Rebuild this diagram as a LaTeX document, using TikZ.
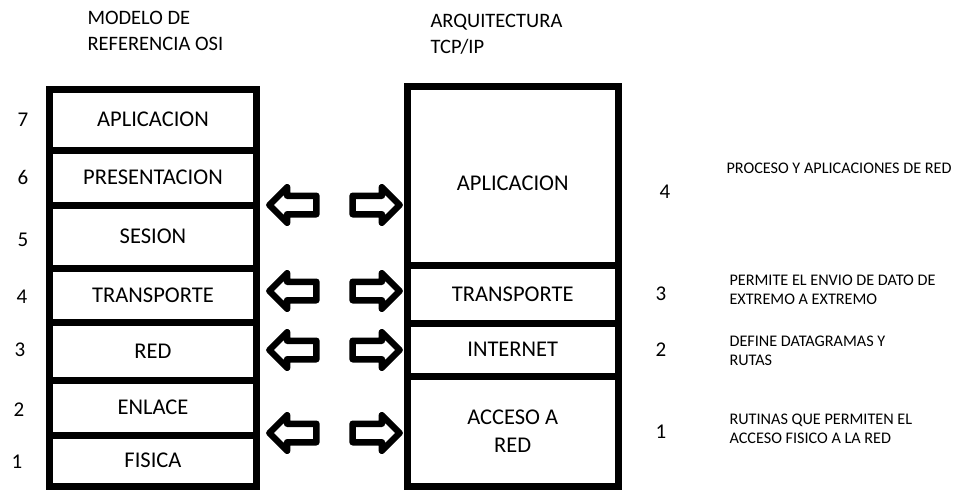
\documentclass[tikz,border=0pt]{standalone}
\usepackage{fontspec}
\setmainfont{Carlito}
\usetikzlibrary{shapes.arrows}

\begin{document}
\begin{tikzpicture}[x=1pt, y=-1pt,
    % Define styles
    layer/.style={rectangle, draw, line width=7pt, outer sep=0pt, minimum width=207pt, text centered, font=\fontsize{22.5}{28}\selectfont},
    tcplayer/.style={layer, minimum width=211pt},
    num/.style={font=\fontsize{21}{24}\selectfont},
    title/.style={anchor=west, align=left, font=\fontsize{20.5}{26}\selectfont},
    desc/.style={anchor=west, align=left, font=\fontsize{16.2}{19}\selectfont},
    blockarrow/.style={single arrow, draw, fill=white, line width=6.5pt, line join=round, inner xsep=0pt, inner ysep=6pt, minimum height=47pt, single arrow head extend=8.5pt}
]
\useasboundingbox (0,0) rectangle (954,490);

% Titles
\node[title] (osi_title) at (84,31) {MODELO DE\\REFERENCIA OSI};
\node[title] (tcp_title) at (427,34) {ARQUITECTURA\\TCP/IP};

% OSI layers
\node[layer, minimum height=61pt] (osi7) at (153,119.5) {APLICACION};
\node[layer, minimum height=55pt] (osi6) at (153,177.5) {PRESENTACION};
\node[layer, minimum height=63pt] (osi5) at (153,236.5) {SESION};
\node[layer, minimum height=54pt] (osi4) at (153,295) {TRANSPORTE};
\node[layer, minimum height=58pt] (osi3) at (153,351) {RED};
\node[layer, minimum height=55pt] (osi2) at (153,407.5) {ENLACE};
\node[layer, minimum height=51pt] (osi1) at (153,460.5) {FISICA};

% OSI numbers
\node[num] (n7) at (23,120) {7};
\node[num] (n6) at (23,177) {6};
\node[num] (n5) at (23,240) {5};
\node[num] (n4) at (22,297) {4};
\node[num] (n3) at (20,350) {3};
\node[num] (n2) at (19,410) {2};
\node[num] (n1) at (17,462) {1};

% TCP/IP layers
\node[tcplayer, minimum height=179pt] (tcp4) at (512.75,175.5) {\rule{0pt}{31pt}APLICACION};
\node[tcplayer, minimum height=58pt] (tcp3) at (512.75,294) {TRANSPORTE};
\node[tcplayer, minimum height=53pt] (tcp2) at (512.75,349.5) {INTERNET};
\node[tcplayer, minimum height=110pt, align=center] (tcp1) at (512.75,431) {ACCESO A\\RED};

% Arrows between models
\node[blockarrow, shape border rotate=180] (left4) at (297.5,205) {};
\node[blockarrow] (right4) at (371.5,205) {};
\node[blockarrow, shape border rotate=180] (left3) at (297.5,291) {};
\node[blockarrow] (right3) at (371.5,291) {};
\node[blockarrow, shape border rotate=180] (left2) at (297.5,350) {};
\node[blockarrow] (right2) at (371.5,350) {};
\node[blockarrow, shape border rotate=180] (left1) at (297.5,433) {};
\node[blockarrow] (right1) at (371.5,433) {};

% TCP/IP numbers
\node[num] (t4) at (665,192) {4};
\node[num] (t3) at (661,294) {3};
\node[num] (t2) at (661,350) {2};
\node[num] (t1) at (661,432) {1};

% Descriptions
\node[desc] (d4) at (723,168) {PROCESO Y APLICACIONES DE RED};
\node[desc] (d3) at (726,290) {PERMITE EL ENVIO DE DATO DE\\EXTREMO A EXTREMO};
\node[desc] (d2) at (726,351) {DEFINE DATAGRAMAS Y\\RUTAS};
\node[desc] (d1) at (726,429) {RUTINAS QUE PERMITEN EL\\ACCESO FISICO A LA RED};

\end{tikzpicture}
\end{document}
